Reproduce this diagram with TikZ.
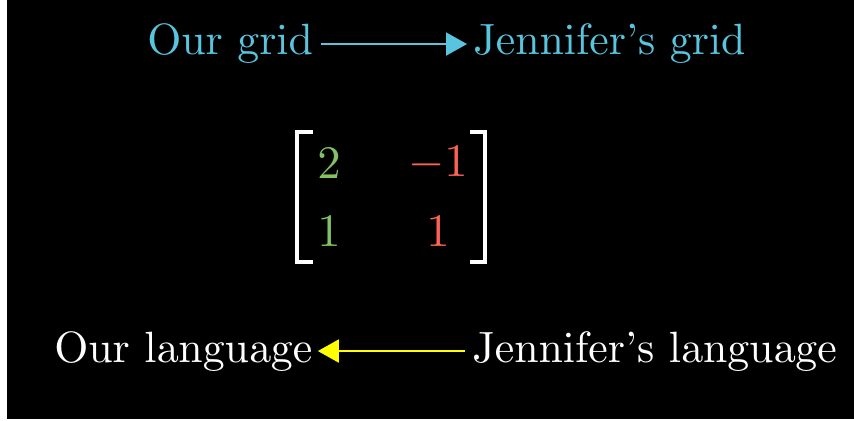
\documentclass[tikz,border=0pt]{standalone}
\usepackage{tikz}
\usetikzlibrary{arrows.meta,calc,positioning}
\definecolor{ManimBlue}{HTML}{58C4DD}
\definecolor{ManimGreen}{HTML}{83C167}
\definecolor{ManimRed}{HTML}{FC6255}
\definecolor{ManimYellow}{HTML}{FFFF00}
\font\wordfont=cmr10 at 21.9pt
\font\digitfont=cmr10 at 23.3pt
\font\minusfont=cmsy10 at 23.3pt
\newcommand{\entryminus}{{\minusfont\char0}}

\begin{document}
\begin{tikzpicture}[x=.5pt,y=-.5pt,
    words/.style={font=\wordfont,inner sep=0pt,anchor=base west},
    entry/.style={font=\digitfont,inner sep=0pt},
    tip/.style={-{Triangle[length=10.5pt,width=11.5pt]},line width=1pt}]
  \fill[white] (0,0) rectangle (854,421);
  \fill[black] (7,0) rectangle (854,419);
  \useasboundingbox (0,0) rectangle (854,421);
  % grids
  \node[words,ManimBlue] (ourgrid) at (147,55) {Our grid};
  \node[words,ManimBlue] (jengrid) at (473,55) {Jennifer's grid};
  \draw[tip,ManimBlue,shorten <=3.5pt,shorten >=3pt] (ourgrid.east) -- (jengrid.west);
  % change of basis matrix
  \foreach \n/\x/\y/\c/\v in {a/329/163/ManimGreen/2,b/438/163/ManimRed/\entryminus1,
                              c/329/231/ManimGreen/1,d/438/231/ManimRed/1}
    \node[entry,text=\c] (m\n) at (\x,\y) {\v};
  \draw[white,line width=2pt] (313,132) -| (297,262) -- (313,262);
  \draw[white,line width=2pt] (470,132) -| (485,262) -- (470,262);
  % languages
  \node[words,white] (ourlang) at (54,362) {Our language};
  \node[words,white] (jenlang) at (472,362) {Jennifer's language};
  \draw[tip,ManimYellow,shorten <=3.5pt,shorten >=2.5pt] (jenlang.west) -- (ourlang.east);
\end{tikzpicture}
\end{document}
